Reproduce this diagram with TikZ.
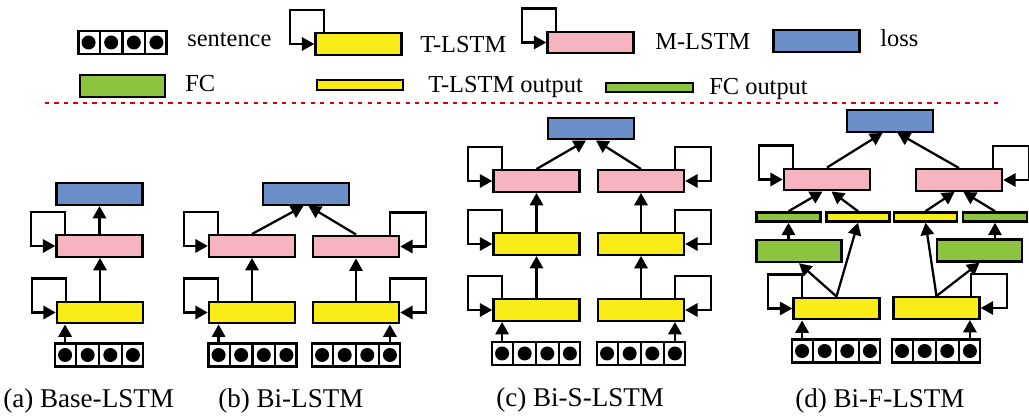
\documentclass[tikz,border=0pt]{standalone}
\usepackage{fontspec}
\setmainfont{Liberation Serif}
\newfontfamily\timesx{Liberation Serif}
\usetikzlibrary{arrows.meta,calc}

\definecolor{tyellow}{RGB}{250,236,22}
\definecolor{mpink}{RGB}{245,180,192}
\definecolor{lblue}{RGB}{106,142,199}
\definecolor{fgreen}{RGB}{141,196,63}

\tikzset{
  box/.style={draw, line width=1.4pt, inner sep=0pt},
  tlstm/.style={box, fill=tyellow, minimum width=1.72cm, minimum height=0.43cm},
  mlstm/.style={box, fill=mpink, minimum width=1.72cm, minimum height=0.43cm},
  lossbox/.style={box, fill=lblue, minimum width=1.72cm, minimum height=0.43cm},
  fcbox/.style={box, fill=fgreen, minimum width=1.70cm, minimum height=0.44cm},
  tout/.style={box, fill=tyellow, minimum width=1.72cm, minimum height=0.19cm},
  fcout/.style={box, fill=fgreen, minimum width=1.74cm, minimum height=0.19cm},
  ybar/.style={box, fill=tyellow, minimum width=1.26cm, minimum height=0.18cm},
  gbar/.style={box, fill=fgreen, minimum width=1.28cm, minimum height=0.18cm},
  sentbox/.style={box, fill=white, minimum width=1.76cm, minimum height=0.46cm},
  arr/.style={line width=1.3pt, -{Triangle[length=7pt,width=7.5pt]}},
  legtext/.style={inner sep=0pt, anchor=base west, font=\timesx\fontsize{13.9}{16}\selectfont},
  captext/.style={inner sep=0pt, anchor=base west, font=\timesx\fontsize{15.4}{18}\selectfont}
}

\newcommand\sentcells[1]{%
  \foreach \i in {1,2,3}
    \draw[line width=1.2pt] ($(#1.south west)!\i/4!(#1.south east)$) -- ($(#1.north west)!\i/4!(#1.north east)$);
  \foreach \i in {1,3,5,7}
    \fill ($(#1.west)!\i/8!(#1.east)$) circle (0.14cm);
  \coordinate (#1-1) at ($(#1.west)!0.125!(#1.east)$);
  \coordinate (#1-4) at ($(#1.west)!0.875!(#1.east)$);
}
\newcommand\lloop[1]{\draw[arr] ([xshift=0.2cm]#1.north west) |- ([xshift=-0.48cm,yshift=0.44cm]#1.north west) |- (#1.west);}
\newcommand\rloop[1]{\draw[arr] ([xshift=-0.2cm]#1.north east) |- ([xshift=0.52cm,yshift=0.44cm]#1.north east) |- (#1.east);}

\begin{document}
\begin{tikzpicture}[x=0.02cm, y=-0.02cm]
  \useasboundingbox (0,0) rectangle (1029,418);

  % legend
  \node[sentbox] (lsent) at (122.5,42.5) {};
  \sentcells{lsent}
  \node[legtext] (tsent) at (187,47) {sentence};
  \node[tlstm] (lt) at (358.5,44) {};
  \lloop{lt}
  \node[legtext] (tlt) at (420,53) {T-LSTM};
  \node[mlstm] (lm) at (590.5,42.5) {};
  \lloop{lm}
  \node[legtext] (tlm) at (655,50) {M-LSTM};
  \node[lossbox] (ll) at (816.5,41) {};
  \node[legtext] (tll) at (880,47) {loss};
  \node[fcbox] (lf) at (122.5,86) {};
  \node[legtext] (tlf) at (185,92) {FC};
  \node[tout] (lto) at (360,85) {};
  \node[legtext] (tlto) at (428,93) {T-LSTM output};
  \node[fcout] (lfo) at (649.5,87.5) {};
  \node[legtext] (tlfo) at (709,95) {FC output};

  \draw[red!85!black, line width=0.9pt, dash pattern=on 2.4pt off 3pt] (45,103) -- (1003,103);

  % (a)
  \node[lossbox] (a-loss) at (99.5,194) {};
  \node[mlstm] (a-m) at (99.5,246) {};
  \node[tlstm] (a-t) at (100,312.5) {};
  \node[sentbox] (a-s) at (99,355) {};
  \sentcells{a-s}
  \lloop{a-m}
  \lloop{a-t}
  \draw[arr] (a-s-1 |- a-s.north) -- (a-s-1 |- a-t.south);
  \draw[arr] (a-t.north) -- (a-t.north |- a-m.south);
  \draw[arr] (a-m.north) -- (a-m.north |- a-loss.south);
  \node[captext] (cap-a) at (3,408) {(a) Base-LSTM};

  % (b)
  \node[lossbox] (b-loss) at (306,194) {};
  \node[mlstm] (b-ml) at (252,246) {};
  \node[mlstm] (b-mr) at (356,246.5) {};
  \node[tlstm] (b-tl) at (252,312.5) {};
  \node[tlstm] (b-tr) at (356,312.5) {};
  \node[sentbox] (b-sl) at (252.5,355) {};
  \node[sentbox] (b-sr) at (356,355) {};
  \sentcells{b-sl}
  \sentcells{b-sr}
  \lloop{b-ml}
  \lloop{b-tl}
  \rloop{b-mr}
  \rloop{b-tr}
  \draw[arr] (b-sl-1 |- b-sl.north) -- (b-sl-1 |- b-tl.south);
  \draw[arr] (b-sr-4 |- b-sr.north) -- (b-sr-4 |- b-tr.south);
  \draw[arr] (b-tl.north) -- (b-ml.south);
  \draw[arr] (b-tr.north) -- (b-mr.south);
  \draw[arr] (b-ml.north) -- ([xshift=-0.05cm]b-loss.south);
  \draw[arr] (b-mr.north) -- ([xshift=0.05cm]b-loss.south);
  \node[captext] (cap-b) at (218,408) {(b) Bi-LSTM};

  % (c)
  \node[lossbox] (c-loss) at (591,128.5) {};
  \node[mlstm] (c-ml) at (536.5,181) {};
  \node[mlstm] (c-mr) at (641,181) {};
  \node[tlstm] (c-tl2) at (536.5,244) {};
  \node[tlstm] (c-tr2) at (641,244) {};
  \node[tlstm] (c-tl1) at (536.5,310) {};
  \node[tlstm] (c-tr1) at (641,310) {};
  \node[sentbox] (c-sl) at (536,353.5) {};
  \node[sentbox] (c-sr) at (641,353.5) {};
  \sentcells{c-sl}
  \sentcells{c-sr}
  \lloop{c-ml}
  \lloop{c-tl2}
  \lloop{c-tl1}
  \rloop{c-mr}
  \rloop{c-tr2}
  \rloop{c-tr1}
  \draw[arr] (c-sl-1 |- c-sl.north) -- (c-sl-1 |- c-tl1.south);
  \draw[arr] (c-sr-4 |- c-sr.north) -- (c-sr-4 |- c-tr1.south);
  \draw[arr] (c-tl1.north) -- (c-tl2.south);
  \draw[arr] (c-tr1.north) -- (c-tr2.south);
  \draw[arr] (c-tl2.north) -- (c-ml.south);
  \draw[arr] (c-tr2.north) -- (c-mr.south);
  \draw[arr] (c-ml.north) -- ([xshift=-0.1cm]c-loss.south);
  \draw[arr] (c-mr.north) -- ([xshift=0.1cm]c-loss.south);
  \node[captext] (cap-c) at (496,407) {(c) Bi-S-LSTM};

  % (d)
  \node[lossbox] (d-loss) at (890,121) {};
  \node[mlstm] (d-ml) at (827,179.5) {};
  \node[mlstm] (d-mr) at (959,180) {};
  \node[gbar] (d-gl) at (788.5,217) {};
  \node[ybar] (d-yl) at (858,217) {};
  \node[ybar] (d-yr) at (925.5,217) {};
  \node[gbar] (d-gr) at (995,217) {};
  \node[fcbox] (d-fl) at (799,251) {};
  \node[fcbox] (d-fr) at (979.5,250.5) {};
  \node[tlstm] (d-tl) at (836.5,308.5) {};
  \node[tlstm] (d-tr) at (936.5,308) {};
  \node[sentbox] (d-sl) at (836,351) {};
  \node[sentbox] (d-sr) at (936,351) {};
  \sentcells{d-sl}
  \sentcells{d-sr}
  \lloop{d-ml}
  \lloop{d-tl}
  \rloop{d-mr}
  \rloop{d-tr}
  \draw[arr] (d-sl-1 |- d-sl.north) -- (d-sl-1 |- d-tl.south);
  \draw[arr] (d-sr-4 |- d-sr.north) -- (d-sr-4 |- d-tr.south);
  \draw[arr] (d-tl.north) -- (d-fl.south);
  \draw[arr] (d-tl.north) -- (d-yl.south);
  \draw[arr] (d-tr.north) -- (d-yr.south);
  \draw[arr] (d-tr.north) -- (d-fr.south);
  \draw[arr] (d-gl.south |- d-fl.north) -- (d-gl.south);
  \draw[arr] (d-gr.south |- d-fr.north) -- (d-gr.south);
  \draw[arr] (d-gl.north) -- ([xshift=-0.09cm]d-ml.south);
  \draw[arr] (d-yl.north) -- ([xshift=0.09cm]d-ml.south);
  \draw[arr] (d-yr.north) -- ([xshift=-0.09cm]d-mr.south);
  \draw[arr] (d-gr.north) -- ([xshift=0.09cm]d-mr.south);
  \draw[arr] (d-ml.north) -- ([xshift=-0.15cm]d-loss.south);
  \draw[arr] (d-mr.north) -- ([xshift=0.15cm]d-loss.south);
  \node[captext] (cap-d) at (795,408) {(d) Bi-F-LSTM};
\end{tikzpicture}
\end{document}
